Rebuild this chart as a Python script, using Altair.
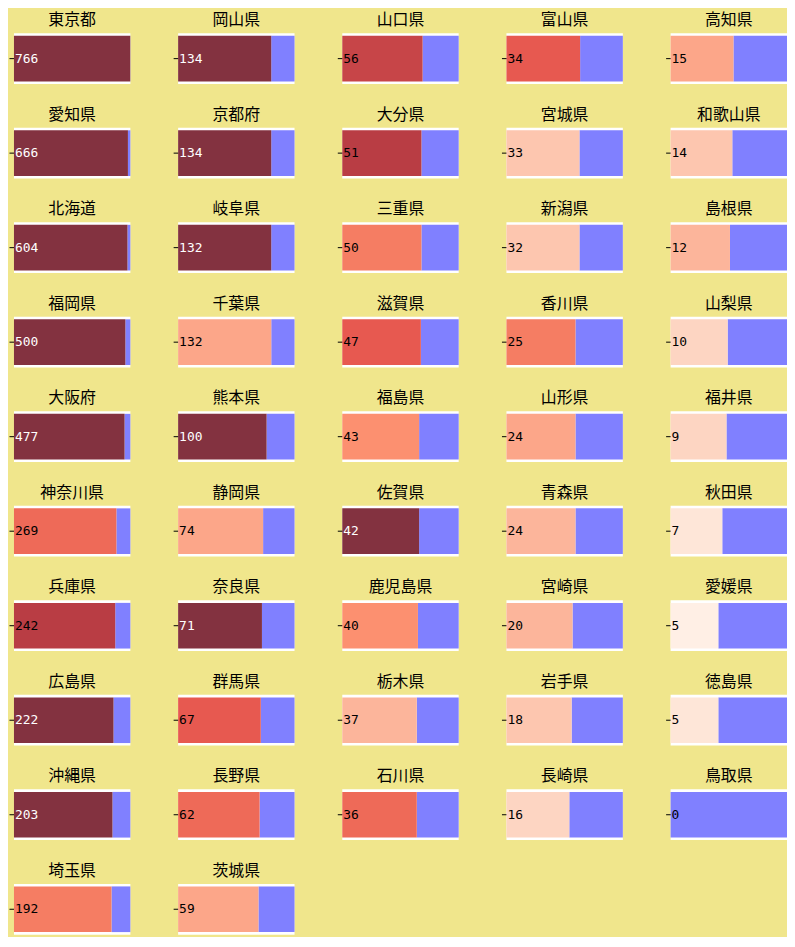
import altair as alt
import pandas as pd

# Column-major listing as seen in the reference (5 columns)
col1 = ["東京都", "愛知県", "北海道", "福岡県", "大阪府", "神奈川県", "兵庫県", "広島県", "沖縄県", "埼玉県"]
col2 = ["岡山県", "京都府", "岐阜県", "千葉県", "熊本県", "静岡県", "奈良県", "群馬県", "長野県", "茨城県"]
col3 = ["山口県", "大分県", "三重県", "滋賀県", "福島県", "佐賀県", "鹿児島県", "栃木県", "石川県"]
col4 = ["富山県", "宮城県", "新潟県", "香川県", "山形県", "青森県", "宮崎県", "岩手県", "長崎県"]
col5 = ["高知県", "和歌山県", "島根県", "山梨県", "福井県", "秋田県", "愛媛県", "徳島県", "鳥取県"]

counts1 = [766, 666, 604, 500, 477, 269, 242, 222, 203, 192]
counts2 = [134, 134, 132, 132, 100, 74, 71, 67, 62, 59]
counts3 = [56, 51, 50, 47, 43, 42, 40, 37, 36]
counts4 = [34, 33, 32, 25, 24, 24, 20, 18, 16]
counts5 = [15, 14, 12, 10, 9, 7, 5, 5, 0]

# share of the bar filled by the red part
share1 = [0.999, 0.979, 0.975, 0.957, 0.95, 0.88, 0.87, 0.855, 0.846, 0.838]
share2 = [0.80, 0.80, 0.80, 0.80, 0.76, 0.73, 0.72, 0.71, 0.70, 0.69]
share3 = [0.69, 0.68, 0.68, 0.675, 0.66, 0.66, 0.65, 0.64, 0.64]
share4 = [0.633, 0.627, 0.627, 0.593, 0.593, 0.593, 0.568, 0.56, 0.54]
share5 = [0.54, 0.53, 0.51, 0.49, 0.48, 0.444, 0.41, 0.41, 0.0]

# colour intensity of the red part (0..1)
shade1 = [1.0, 1.0, 1.0, 1.0, 1.0, 0.62, 0.83, 1.0, 1.0, 0.56]
shade2 = [1.0, 1.0, 1.0, 0.40, 1.0, 0.40, 1.0, 0.67, 0.62, 0.40]
shade3 = [0.78, 0.83, 0.56, 0.67, 0.50, 1.0, 0.50, 0.33, 0.62]
shade4 = [0.67, 0.25, 0.25, 0.56, 0.40, 0.33, 0.33, 0.25, 0.18]
shade5 = [0.40, 0.25, 0.33, 0.18, 0.18, 0.08, 0.02, 0.08, 0.0]

cols = [col1, col2, col3, col4, col5]
prefs = col1 + col2 + col3 + col4 + col5
counts = counts1 + counts2 + counts3 + counts4 + counts5
shares = share1 + share2 + share3 + share4 + share5
shades = shade1 + shade2 + shade3 + shade4 + shade5

# row-major order for a wrapped facet that reproduces the column-major grid
order = []
for r in range(10):
    for c in cols:
        if r < len(c):
            order.append(c[r])

df = pd.DataFrame({"pref": prefs, "count": counts, "share": shares, "shade": shades})

shade_colors = ["#fff2ea", "#fdd8c6", "#fcb49a", "#fc9070", "#e85a50", "#b83c44", "#833240"]

base = alt.Chart().encode(
    y=alt.Y("pref:N", title=None,
            axis=alt.Axis(labels=False, domain=False, ticks=True, tickSize=5,
                          tickColor="black", title=None)),
)

blue = base.mark_bar(color="#8080ff").encode(
    x=alt.X("share:Q", scale=alt.Scale(domain=[0, 1], nice=False, zero=True), axis=None),
    x2=alt.datum(1),
)

red = base.mark_bar().encode(
    x=alt.X("share:Q"),
    x2=alt.datum(0),
    color=alt.Color("shade:Q", scale=alt.Scale(domain=[0, 1], range=shade_colors, clamp=True),
                    legend=None),
)

txt = base.mark_text(align="left", baseline="middle", dx=1, font="DejaVu Sans Mono", fontSize=13).encode(
    x=alt.datum(0),
    text=alt.Text("count:Q"),
    color=alt.condition("datum.shade >= 0.95", alt.value("white"), alt.value("black")),
)

layer = alt.layer(blue, red, txt).properties(width=117, height=51)

chart = layer.facet(
    facet=alt.Facet("pref:N", sort=order, title=None,
                    header=alt.Header(labelFont="Noto Sans CJK JP", labelFontSize=16,
                                      labelColor="black", labelPadding=5)),
    columns=5,
    data=df,
    spacing={"row": 23, "column": 42},
).resolve_scale(y="independent").configure(
    background="#f0e68c",
    padding={"top": 2, "left": 0, "right": 0, "bottom": 0},
).configure_view(fill="white", strokeWidth=0)

chart.save("out.html", embed_options={"renderer": "svg", "actions": False})
